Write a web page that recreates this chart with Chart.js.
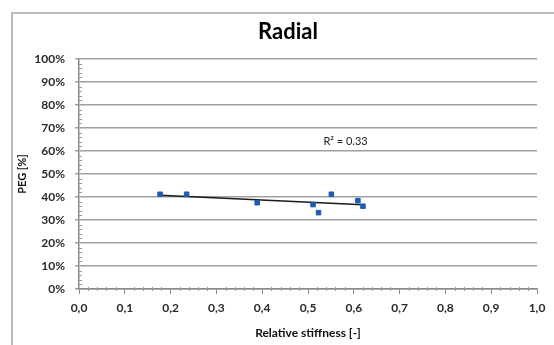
<!DOCTYPE html>
<html>
<head>
<meta charset="utf-8">
<script src="https://cdn.jsdelivr.net/npm/chart.js@4/dist/chart.umd.min.js"></script>
<style>
html,body{margin:0;padding:0;background:#fff;overflow:hidden;}
#wrap{position:relative;width:554px;height:345px;}
</style>
</head>
<body>
<div id="wrap"><canvas id="c" width="554" height="345"></canvas></div>
<script>
// Data
const stiffness = [0.177, 0.235, 0.389, 0.511, 0.523, 0.551, 0.609, 0.620];
const pegPercent = [41.2, 41.2, 37.5, 36.7, 33.2, 41.2, 38.4, 36.0];
const trendX = [0.177, 0.620];
const trendY = [40.8, 36.6];
const chartTitle = 'Radial';
const xTitle = 'Relative stiffness [-]';
const yTitle = 'PEG [%]';
const r2Label = 'R² = 0.33';
const r2Pos = [0.582, 64.3];

const FONT = 'Lato, "Open Sans", sans-serif';

const decor = {
  id: 'decor',
  beforeDraw(chart) {
    const ctx = chart.ctx;
    ctx.save();
    ctx.strokeStyle = '#bcbcbc';
    ctx.lineWidth = 2;
    ctx.strokeRect(12, 13, 700, 500);
    ctx.restore();
  },
  afterDraw(chart) {
    const ctx = chart.ctx;
    const xs = chart.scales.x, ys = chart.scales.y;
    ctx.save();
    // minor ticks
    ctx.strokeStyle = '#9a9a9a';
    ctx.lineWidth = 1;
    const axY = ys.getPixelForValue(0);
    for (let i = 1; i < 50; i++) {
      if (i % 5 === 0) continue;
      const px = Math.round(xs.getPixelForValue(i * 0.02)) + 0.5;
      ctx.beginPath(); ctx.moveTo(px, axY - 2); ctx.lineTo(px, axY + 2); ctx.stroke();
    }
    const axX = xs.getPixelForValue(0);
    for (let i = 1; i < 50; i++) {
      if (i % 5 === 0) continue;
      const py = Math.round(ys.getPixelForValue(i * 2)) + 0.5;
      ctx.beginPath(); ctx.moveTo(axX, py); ctx.lineTo(axX + 3, py); ctx.stroke();
    }
    // title
    ctx.fillStyle = '#000';
    ctx.font = 'bold 22px ' + FONT;
    ctx.textAlign = 'center';
    ctx.textBaseline = 'middle';
    ctx.fillText(chartTitle, 288, 32);
    // R2 label
    ctx.font = '11px ' + FONT;
    ctx.fillStyle = '#222';
    ctx.fillText(r2Label, xs.getPixelForValue(r2Pos[0]), ys.getPixelForValue(r2Pos[1]));
    ctx.restore();
  }
};

new Chart(document.getElementById('c'), {
  type: 'scatter',
  data: {
    datasets: [
      {
        type: 'line',
        data: trendX.map((x, i) => ({x: x, y: trendY[i]})),
        borderColor: '#1a1a1a',
        borderWidth: 1.5,
        pointRadius: 0,
        fill: false,
        order: 2
      },
      {
        data: stiffness.map((x, i) => ({x: x, y: pegPercent[i]})),
        backgroundColor: '#1f5bb0',
        borderColor: '#1f5bb0',
        pointStyle: 'rect',
        pointRadius: 3.2,
        order: 1
      }
    ]
  },
  plugins: [decor],
  options: {
    responsive: false,
    animation: false,
    layout: {padding: {left: 12, right: 17, top: 59, bottom: 1}},
    plugins: {legend: {display: false}, tooltip: {enabled: false}, title: {display: false}},
    scales: {
      x: {
        type: 'linear', min: 0, max: 1,
        afterFit(s) { s.height = 55; },
        ticks: {stepSize: 0.1, color: '#2a2a2a', padding: 7,
          font: {family: FONT, size: 12, weight: 'bold'},
          callback: v => v.toFixed(1).replace('.', ',')},
        grid: {drawOnChartArea: false, drawTicks: true, tickLength: 5, color: '#8a8a8a', lineWidth: 1},
        border: {color: '#8a8a8a', width: 1.5},
        title: {display: true, text: xTitle, color: '#111',
          font: {family: FONT, size: 12, weight: 'bold'}, padding: {top: 4, bottom: 4}}
      },
      y: {
        type: 'linear', min: 0, max: 100,
        afterFit(s) { s.width = 79 - 12; },
        ticks: {stepSize: 10, color: '#2a2a2a', padding: 10,
          font: {family: FONT, size: 12, weight: 'bold'},
          callback: v => v + '%'},
        grid: {color: '#a0a0a0', lineWidth: 1.5, tickLength: 4},
        border: {color: '#8a8a8a', width: 1.5},
        title: {display: true, text: yTitle, color: '#111',
          font: {family: FONT, size: 11, weight: 'bold'}, padding: {top: 4, bottom: 4}}
      }
    }
  }
});
</script>
</body>
</html>
